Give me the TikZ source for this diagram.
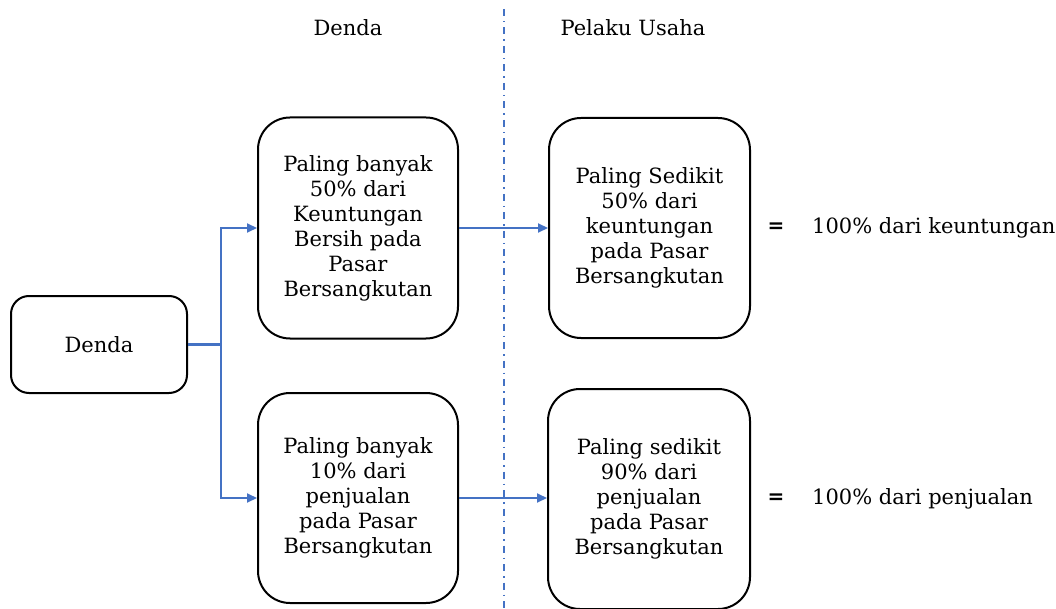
\documentclass[tikz,border=0pt]{standalone}
\usepackage{fontspec}
\setmainfont{DejaVu Serif}
\newfontfamily\eqfont{DejaVu Sans}
\usetikzlibrary{arrows.meta}
\definecolor{linkblue}{HTML}{4472C4}
\begin{document}
\begin{tikzpicture}[x=1pt,y=-1pt,
  txt/.style={font=\fontsize{21}{25}\selectfont, inner sep=0pt},
  box/.style={txt, draw, line width=2pt, align=center, rounded corners=32pt},
  conn/.style={draw=linkblue, line width=2pt, -{Triangle[length=10pt,width=9pt]}},
  divider/.style={draw=linkblue, line width=1.5pt, dash pattern=on 7pt off 5pt on 1.5pt off 5pt}]
\useasboundingbox (0,0) rectangle (1056,609);

\node[box, rounded corners=18pt, minimum width=176pt, minimum height=97pt] (denda) at (99,344.5) {Denda};
\node[box, minimum width=200pt, minimum height=221pt] (topm) at (358,228)
  {Paling banyak\\50\% dari\\Keuntungan\\Bersih pada\\Pasar\\Bersangkutan};
\node[box, minimum width=200pt, minimum height=210pt] (botm) at (358,498)
  {Paling banyak\\10\% dari\\penjualan\\pada Pasar\\Bersangkutan};
\node[box, minimum width=201pt, minimum height=220pt] (topr) at (649.5,228)
  {Paling Sedikit\\50\% dari\\keuntungan\\pada Pasar\\Bersangkutan};
\node[box, minimum width=202pt, minimum height=220pt] (botr) at (649,499)
  {Paling sedikit\\90\% dari\\penjualan\\pada Pasar\\Bersangkutan};

\node[txt] (h1) at (348,28) {Denda};
\node[txt] (h2) at (633,28) {Pelaku Usaha};

\node[txt, font=\eqfont\bfseries\fontsize{20}{25}\selectfont] (eq1) at (776,228) {=};
\node[txt, font=\eqfont\bfseries\fontsize{20}{25}\selectfont] (eq2) at (776,499) {=};
\node[txt, anchor=west] (r1) at (812,228) {100\% dari keuntungan};
\node[txt, anchor=west] (r2) at (812,499) {100\% dari penjualan};

\coordinate (dtop) at (504,9);
\coordinate (dbot) at (504,609);
\draw[divider] (dtop) -- (dbot);

\coordinate (split) at (221,344.5);
\draw[draw=linkblue, line width=3pt] (denda.east) -- (split);
\draw[conn] (split) |- (topm.west);
\draw[conn] (split) |- (botm.west);
\draw[conn] (topm.east) -- (topr.west);
\draw[conn] (botm.east) -- (botm.east -| botr.west);
\end{tikzpicture}
\end{document}
